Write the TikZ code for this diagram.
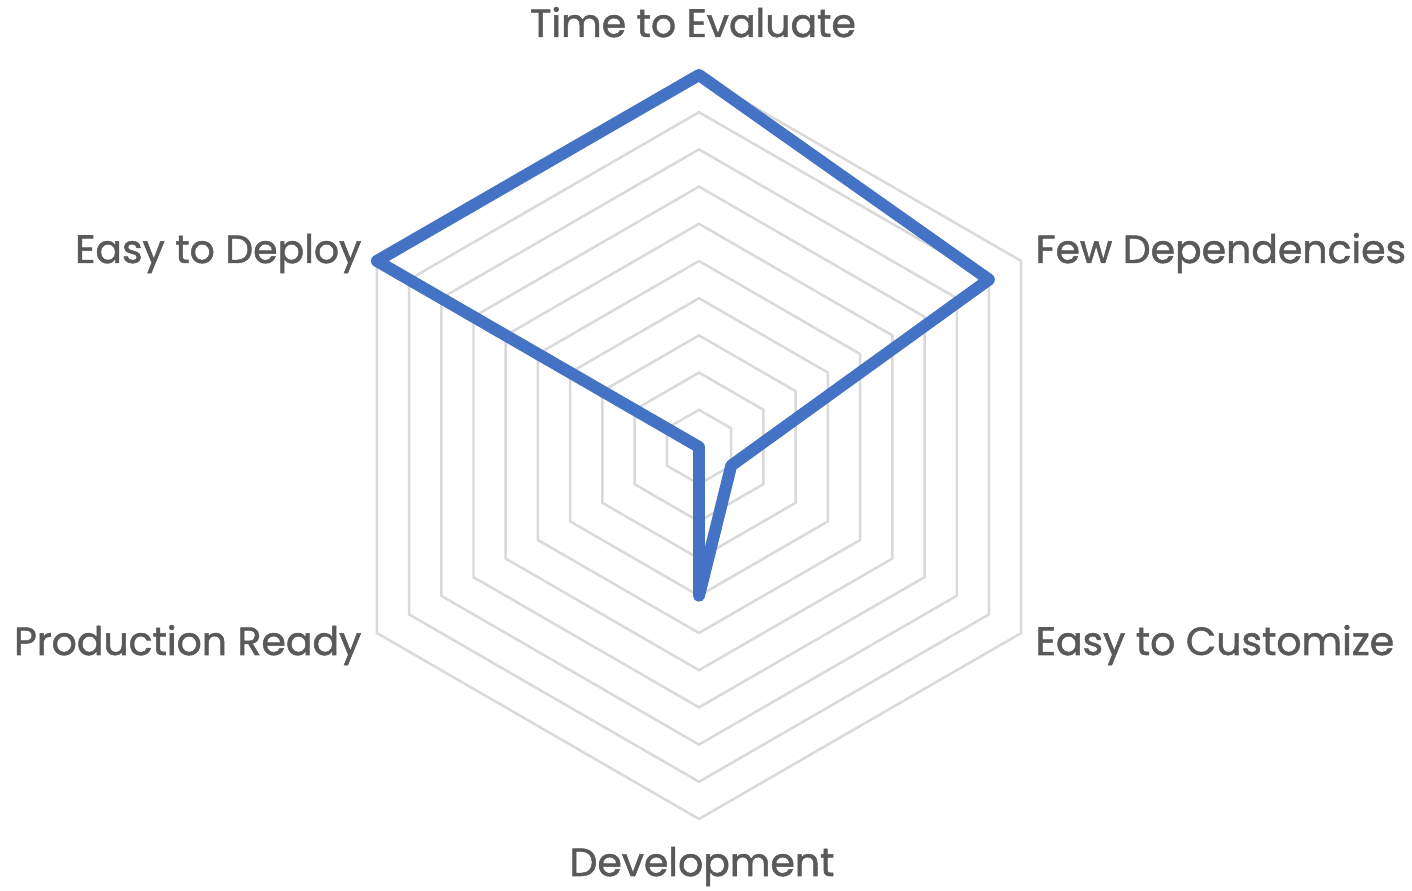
\documentclass[tikz,border=0pt]{standalone}
\usepackage{fontspec}
\newfontfamily\labelfont[FakeBold=1.3]{Poppins}
\usepackage{xcolor}
\usepackage{tikz}
\definecolor{radarblue}{HTML}{4472C4}
\definecolor{gridgray}{HTML}{D9D9D9}
\definecolor{labelgray}{HTML}{595959}
\tikzset{
	gridline/.style={draw=gridgray, line width=0.7pt, line join=miter},
	scoreline/.style={draw=radarblue, line width=3.4pt, line join=round, line cap=round},
	axislabel/.style={text=labelgray, inner sep=0pt, font=\labelfont\fontsize{11.2}{13}\selectfont}
}

\begin{document}
\begin{tikzpicture}[x=0.01cm, y=0.01cm]
		\useasboundingbox (0,0) rectangle (1412,891);
		\coordinate (c) at (699,444);
		
		% hexagon grid, ten rings
		\foreach \k in {1,...,10} {
			\draw[gridline] ([shift={(90:\k*37.2)}]c) -- ([shift={(30:\k*37.2)}]c) -- ([shift={(-30:\k*37.2)}]c)
				-- ([shift={(-90:\k*37.2)}]c) -- ([shift={(210:\k*37.2)}]c) -- ([shift={(150:\k*37.2)}]c) -- cycle;
		}
		
		% scores
		\coordinate (s1) at ([shift={(90:372)}]c);
		\coordinate (s2) at ([shift={(30:334.8)}]c);
		\coordinate (s3) at ([shift={(-30:37.2)}]c);
		\coordinate (s4) at ([shift={(-90:148.8)}]c);
		\coordinate (s5) at (c);
		\coordinate (s6) at ([shift={(150:372)}]c);
		\draw[scoreline] (s1) -- (s2) -- (s3) -- (s4) -- (s5) -- (s6) -- cycle;
		
		% axis labels
		\node[axislabel, anchor=base] at (693,854) (eval) {Time to Evaluate};
		\node[axislabel, anchor=base west] at (1035,628) (deps) {Few Dependencies};
		\node[axislabel, anchor=base west] at (1035,236) (cust) {Easy to Customize};
		\node[axislabel, anchor=base] at (702,15) (dev) {Development};
		\node[axislabel, anchor=base east] at (362,236) (prod) {Production Ready};
		\node[axislabel, anchor=base east] at (362,628) (depl) {Easy to Deploy};
	\end{tikzpicture}
\end{document}
